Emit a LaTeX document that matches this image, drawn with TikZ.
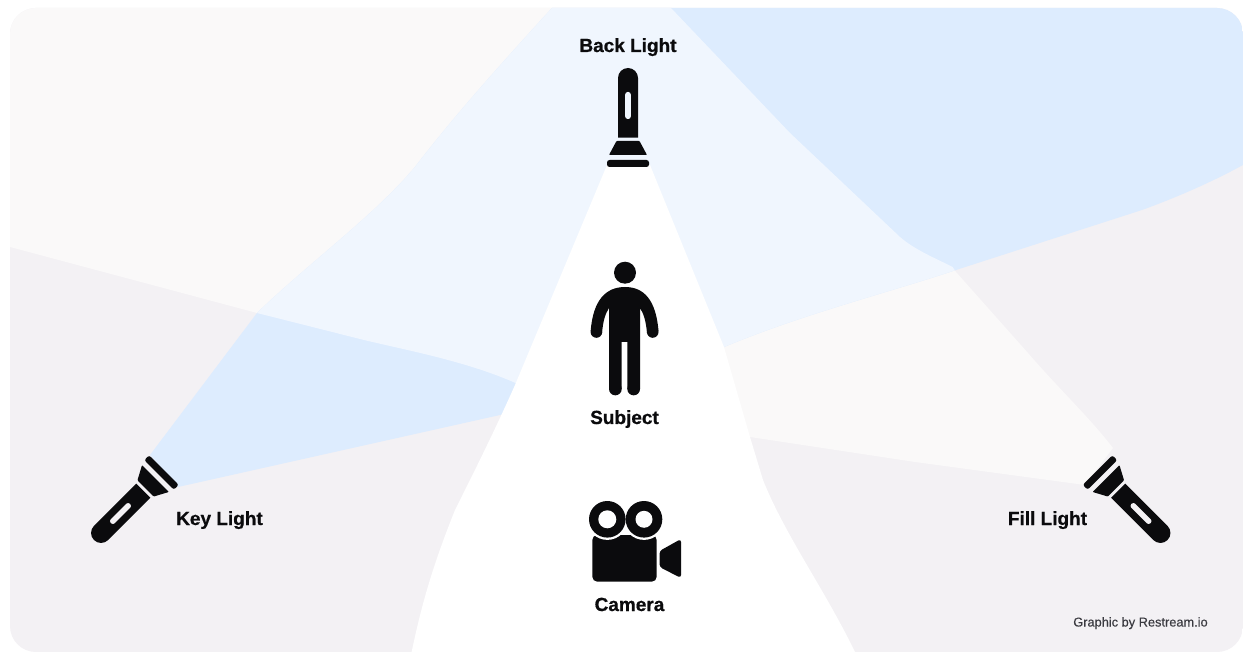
\documentclass[tikz,border=0pt]{standalone}
\usepackage{fontspec}
\setmainfont{Liberation Sans}
\newfontfamily\heavyfont[BoldFeatures={FakeBold=0.7}]{Liberation Sans}
\newfontfamily\creditfont[FakeBold=0.15]{Liberation Sans}
\definecolor{cardbg}{HTML}{F3F1F4}
\definecolor{fillbeam}{HTML}{FAF9F9}
\definecolor{keybeam}{HTML}{DDECFE}
\definecolor{overlap}{HTML}{F0F6FE}
\definecolor{ink}{HTML}{0B0B0D}
\definecolor{credit}{HTML}{3A3A40}
\tikzset{
  label/.style={font=\heavyfont\fontsize{19}{22}\selectfont\bfseries, text=ink, inner sep=0pt, anchor=base},
  creditlabel/.style={font=\creditfont\fontsize{12.8}{15}\selectfont, text=credit, inner sep=0pt, anchor=base},
  pics/torch/.style={code={
    \begin{scope}[x=1pt,y=1pt]
      \fill[ink, rounded corners=2.5pt] (-21,-3.5) rectangle (21,3.5);
      \fill[ink, rounded corners=0.8pt] (-19,8.5) -- (19,8.5) -- (11.5,22.5) -- (-11.5,22.5) -- cycle;
      \fill[ink] (-10,25.8) -- (10,25.8) -- (10,85.5) arc[start angle=0,end angle=180,radius=10] -- cycle;
      \fill[#1, rounded corners=2.5pt] (-2.8,44.5) rectangle (2.8,71.5);
    \end{scope}
  }},
}
\newcommand{\keyshape}{(150,455) -- (257,313) .. controls (310,262) and (375,215) .. (415,167) .. controls (455,115) and (500,65) .. (552,8) -- (1243,8) -- (1243,165) .. controls (1210,183) and (1175,198) .. (1142,210) -- (956,270) .. controls (890,292) and (800,315) .. (724,347) .. controls (650,372) and (570,398) .. (500,415) -- (178,487) -- cycle}
\newcommand{\fillshape}{(1113,448) .. controls (1090,418) and (1060,390) .. (1028,353) -- (956,272) -- (952.6,267) .. controls (935,258) and (915,250) .. (900,237) -- (790,133) -- (671,8) -- (10,8) -- (10,247) -- (257,313) -- (364,340) .. controls (410,351) and (470,362) .. (520,385) -- (750,437) -- (915,462) -- (1085,485) -- cycle}
\begin{document}
\begin{tikzpicture}[x=1pt,y=-1pt]
\useasboundingbox (0,0) rectangle (1243,652);
\fill[white] (0,0) rectangle (1243,652);
\begin{scope}
  \clip[rounded corners=26pt] (10,8) rectangle (1243,652);
  \fill[cardbg] (0,0) rectangle (1243,652);
  \fill[fillbeam] \fillshape;
  \fill[keybeam] \keyshape;
  \begin{scope}
    \clip \fillshape;
    \fill[overlap] \keyshape;
  \end{scope}
  % back light beam
  \fill[white] (607,165) -- (515,385) .. controls (495,430) and (475,470) .. (455,510) .. controls (435,560) and (422,600) .. (410,660) -- (858,660) -- (855,652) .. controls (825,590) and (785,535) .. (763,480) -- (750,437) -- (724,347) -- (650,165) -- cycle;
\end{scope}

% flashlights
\pic at (628,163.5) {torch=overlap};
\pic[rotate=135] at (161.5,472.5) {torch=cardbg};
\pic[rotate=-135] at (1100,472.5) {torch=cardbg};

% person
\fill[ink] (625,272.7) circle[radius=11];
\fill[ink] (625,287) .. controls (644,287) and (656,300) .. (658.5,331)
  -- (647,333) .. controls (646,322) and (644,314) .. (640,308)
  -- (640,389) -- (627.3,389) -- (627.3,342) -- (621.7,342) -- (621.7,389) -- (609,389)
  -- (609,308) .. controls (605,314) and (603,322) .. (602,333)
  -- (590.7,331) .. controls (593,300) and (606,287) .. (625,287) -- cycle;
\fill[ink] (615.35,389) circle[radius=6.35];
\fill[ink] (633.65,389) circle[radius=6.35];
\fill[ink] (652.7,332) circle[radius=5.8];
\fill[ink] (596.4,332) circle[radius=5.8];

% camera
\fill[ink, rounded corners=5pt] (592.3,535) rectangle (656.7,581.7);
\fill[white] (607.3,519.3) circle[radius=20.6];
\fill[white] (644,519.3) circle[radius=20.6];
\fill[ink] (607.3,519.3) circle[radius=18.3];
\fill[ink] (644,519.3) circle[radius=18.3];
\fill[white] (607.3,519.3) circle[radius=9];
\fill[white] (644,519.3) circle[radius=8.5];
\fill[ink, rounded corners=3pt] (659.5,551) -- (681,539) -- (681,578) -- (659.5,567) -- cycle;

% labels
\node[label] (back) at (628,52) {Back Light};
\node[label] (key) at (219.5,525) {Key Light};
\node[label] (subject) at (624.5,424) {Subject};
\node[label] (camera) at (629.5,611) {Camera};
\node[label] (fill) at (1047.5,525) {Fill Light};
\node[creditlabel] (credit) at (1140.5,626.5) {Graphic by Restream.io};
\end{tikzpicture}
\end{document}
